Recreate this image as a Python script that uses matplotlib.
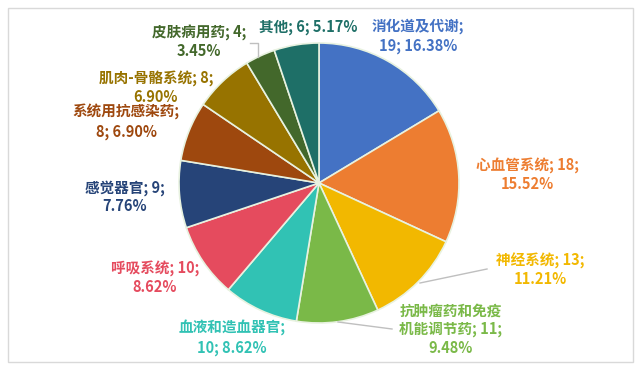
import matplotlib
matplotlib.use('Agg')
import matplotlib.pyplot as plt
from matplotlib.patches import Rectangle

plt.rcParams['font.family'] = ['Noto Sans CJK SC', 'DejaVu Sans']

# datos
categories = ['消化道及代谢', '心血管系统', '神经系统', '抗肿瘤药和免疫机能调节药',
              '血液和造血器官', '呼吸系统', '感觉器官', '系统用抗感染药',
              '肌肉-骨骼系统', '皮肤病用药', '其他']
counts = [19, 18, 13, 11, 10, 10, 9, 8, 8, 4, 6]
colors = ['#4472C4', '#ED7D31', '#F2B800', '#7AB948', '#31C2B4', '#E54B5E',
          '#264478', '#9E480E', '#977300', '#43682B', '#1E6F67']

# texto de etiquetas (saltos de linea como en la imagen)
total = sum(counts)
pct = [f'{100 * c / total:.2f}%' for c in counts]
label_texts = [
    f'{categories[0]};\n{counts[0]}; {pct[0]}',
    f'{categories[1]}; {counts[1]};\n{pct[1]}',
    f'{categories[2]}; {counts[2]};\n{pct[2]}',
    f'抗肿瘤药和免疫\n机能调节药; {counts[3]};\n{pct[3]}',
    f'{categories[4]};\n{counts[4]}; {pct[4]}',
    f'{categories[5]}; {counts[5]};\n{pct[5]}',
    f'{categories[6]}; {counts[6]};\n{pct[6]}',
    f'{categories[7]};\n{counts[7]}; {pct[7]}',
    f'{categories[8]}; {counts[8]};\n{pct[8]}',
    f'{categories[9]}; {counts[9]};\n{pct[9]}',
    f'{categories[10]}; {counts[10]}; {pct[10]}',
]
# posiciones de etiquetas en pixeles (x, y desde arriba)
label_pos = [(418, 36), (527, 175), (540, 270), (451, 329), (232, 338),
             (155, 278), (125, 197), (126, 122), (156, 88), (199, 42), (308, 27)]

W, H = 640, 372
fig = plt.figure(figsize=(6.4, 3.72), dpi=100)
ax = fig.add_axes([0, 0, 1, 1])

ax.add_patch(Rectangle((8, H - 362), 625, 354, fill=False, edgecolor='#D9D9D9', lw=1))

cx, cy, r = 319, H - 183, 140
ax.pie(counts, colors=colors, startangle=90, counterclock=False,
       center=(cx, cy), radius=r, frame=True,
       wedgeprops=dict(edgecolor='#E8F2E0', linewidth=1.2))
ax.set_xlim(0, W)
ax.set_ylim(0, H)
ax.set_aspect('equal')
ax.axis('off')

for txt, (x, y), col in zip(label_texts, label_pos, colors):
    ax.text(x, H - y, txt, color=col, fontsize=10.5, fontweight='bold',
            ha='center', va='center', linespacing=1.2)

# lineas guia
lc = '#BFBFBF'
ax.plot([487, 420], [H - 269, H - 283], color=lc, lw=1)
ax.plot([392, 338], [H - 329, H - 322], color=lc, lw=1)
ax.plot([250, 258, 258], [H - 43, H - 43, H - 57], color=lc, lw=1)

fig.savefig('out.png', dpi=100)
